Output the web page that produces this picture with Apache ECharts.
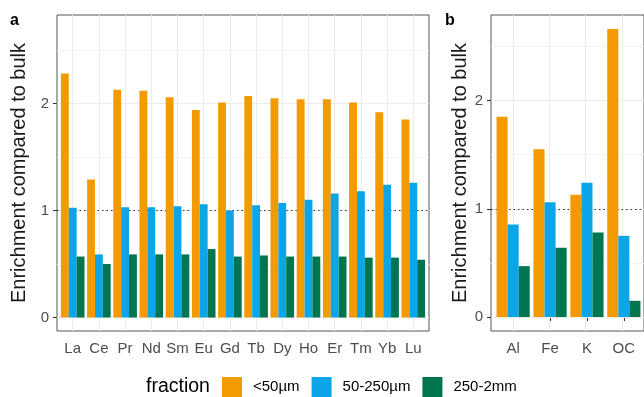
<!DOCTYPE html>
<html>
<head>
<meta charset="utf-8">
<script src="https://cdn.jsdelivr.net/npm/echarts@6/dist/echarts.min.js"></script>
<style>
html, body { margin: 0; padding: 0; background: #fff; }
#chart { width: 644px; height: 397px; }
</style>
</head>
<body>
<div id="chart"></div>
<script>
// panel a: rare earth elements
var catsA = ['La', 'Ce', 'Pr', 'Nd', 'Sm', 'Eu', 'Gd', 'Tb', 'Dy', 'Ho', 'Er', 'Tm', 'Yb', 'Lu'];
var fineA = [2.28, 1.29, 2.13, 2.12, 2.06, 1.94, 2.01, 2.07, 2.05, 2.04, 2.04, 2.01, 1.92, 1.85];
var midA = [1.025, 0.59, 1.03, 1.03, 1.04, 1.06, 1.00, 1.05, 1.07, 1.10, 1.16, 1.18, 1.24, 1.26];
var coarseA = [0.57, 0.50, 0.59, 0.59, 0.59, 0.64, 0.57, 0.58, 0.57, 0.57, 0.57, 0.56, 0.56, 0.54];
// panel b: major elements + organic carbon
var catsB = ['Al', 'Fe', 'K', 'OC'];
var fineB = [1.85, 1.55, 1.13, 2.66];
var midB = [0.855, 1.06, 1.24, 0.75];
var coarseB = [0.47, 0.64, 0.78, 0.15];

var fractions = ['<50µm', '50-250µm', '250-2mm'];
var yTicks = [0, 1, 2];
var minorTicks = [0.5, 1.5, 2.5];

var colorList = ['#F39A00', '#0CA6E8', '#00754F'];
var font = '"Liberation Sans", Arial, sans-serif';
var chart = echarts.init(document.getElementById('chart'));

// gridlines + dotted reference line, drawn on the outer (panel) grid
function gridLines(n, idx) {
    var data = [];
    for (var i = 0; i < n; i++) {
        data.push({ xAxis: i, lineStyle: { color: '#ebebeb', width: 1, type: 'solid' } });
    }
    minorTicks.forEach(function (v) {
        data.push({ yAxis: v, lineStyle: { color: '#f3f3f3', width: 1, type: 'solid' } });
    });
    yTicks.forEach(function (v) {
        data.push({ yAxis: v, lineStyle: { color: '#ebebeb', width: 1, type: 'solid' } });
    });
    data.push({ yAxis: 1, lineStyle: { color: '#333', width: 1, type: [1.5, 3] } });
    return {
        type: 'line',
        xAxisIndex: idx,
        yAxisIndex: idx,
        data: [],
        z: 1,
        silent: true,
        markLine: {
            z: 1,
            silent: true,
            symbol: 'none',
            label: { show: false },
            animation: false,
            data: data
        }
    };
}

function bars(vals, idx) {
    return vals.map(function (v, k) {
        return {
            name: fractions[k],
            type: 'bar',
            xAxisIndex: idx,
            yAxisIndex: idx,
            barGap: '0%',
            barCategoryGap: '10%',
            itemStyle: { color: colorList[k] },
            z: 3,
            data: v
        };
    });
}

function innerY(min, max, offset) {
    return {
        type: 'value',
        min: min,
        max: max,
        offset: offset,
        name: 'Enrichment compared to bulk',
        nameLocation: 'middle',
        nameGap: 20,
        nameTextStyle: { fontSize: 20, color: '#1a1a1a', fontFamily: font },
        axisLine: { show: false },
        axisTick: { show: true, length: 4, customValues: yTicks, lineStyle: { color: '#333' } },
        axisLabel: { customValues: yTicks, fontSize: 15, color: '#4d4d4d', margin: 8, fontFamily: font },
        splitLine: { show: false }
    };
}

function innerX(cats) {
    return {
        type: 'category',
        data: cats,
        axisLine: { show: false },
        axisTick: { show: true, alignWithLabel: true, length: 4, lineStyle: { color: '#333' } },
        axisLabel: { interval: 0, fontSize: 15, color: '#4d4d4d', margin: 10, fontFamily: font },
        splitLine: { show: false }
    };
}

var option = {
    animation: false,
    color: colorList,
    title: [
        { text: 'a', left: 10, top: 13, padding: 0, textStyle: { fontSize: 16, fontWeight: 'bold', color: '#000', fontFamily: font } },
        { text: 'b', left: 445, top: 13, padding: 0, textStyle: { fontSize: 16, fontWeight: 'bold', color: '#000', fontFamily: font } },
        { text: 'fraction', left: 146, top: 377, padding: 0, textStyle: { fontSize: 19.5, fontWeight: 'normal', color: '#000', fontFamily: font } }
    ],
    legend: {
        data: fractions,
        left: 222,
        top: 377,
        padding: 0,
        itemWidth: 20,
        itemHeight: 20,
        itemGap: 12,
        icon: 'rect',
        selectedMode: false,
        textStyle: { fontSize: 15, color: '#000', fontFamily: font, padding: [0, 0, 0, 6] }
    },
    grid: [
        // outer panels (border + gridlines)
        { left: 57, top: 15, width: 372, height: 316, show: true, borderColor: '#555', borderWidth: 1, backgroundColor: 'transparent' },
        { left: 491, top: 15, width: 155, height: 316, show: true, borderColor: '#555', borderWidth: 1, backgroundColor: 'transparent' },
        // inner bar areas, inset by 0.1 category on each side
        { left: 59.6, top: 15, width: 366.8, height: 316 },
        { left: 494.7, top: 15, width: 147.6, height: 316 }
    ],
    xAxis: [
        { type: 'value', gridIndex: 0, min: -0.6, max: catsA.length - 0.4, show: false },
        { type: 'value', gridIndex: 1, min: -0.6, max: catsB.length - 0.4, show: false },
        Object.assign(innerX(catsA), { gridIndex: 2 }),
        Object.assign(innerX(catsB), { gridIndex: 3 })
    ],
    yAxis: [
        { type: 'value', gridIndex: 0, min: -0.126, max: 2.828, show: false },
        { type: 'value', gridIndex: 1, min: -0.129, max: 2.79, show: false },
        Object.assign(innerY(-0.126, 2.828, 2.6), { gridIndex: 2 }),
        Object.assign(innerY(-0.129, 2.79, 3.7), { gridIndex: 3 })
    ],
    series: [gridLines(catsA.length, 0), gridLines(catsB.length, 1)]
        .concat(bars([fineA, midA, coarseA], 2))
        .concat(bars([fineB, midB, coarseB], 3))
};

chart.setOption(option);
</script>
</body>
</html>
